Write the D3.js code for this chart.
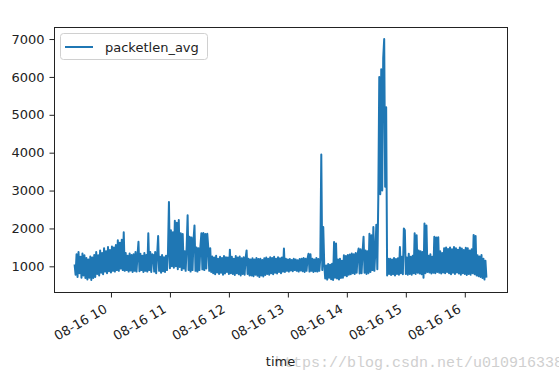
<!DOCTYPE html>
<html lang="en">
<head>
<meta charset="UTF-8">
<title>packetlen_avg</title>
<script src="https://cdn.jsdelivr.net/npm/d3@7"></script>
<style>
    body { margin: 0; background: #fff; }
    svg { display: block; font-family: "DejaVu Sans", sans-serif; }
</style>
</head>
<body>
<div id="chart"></div>
<script>
// series: one sample per minute starting at 08-16 09:23
const seriesName = "packetlen_avg";
const startTime = "2018-08-16 09:23";
const packetlenAvg = [
    1050, 780, 1320, 720, 1380, 820, 1250, 700, 1340, 760, 1290, 690, 1220, 650, 1180, 700, 1260, 640, 1230, 690,
    1300, 720, 1380, 800, 1290, 760, 1420, 830, 1350, 790, 1480, 860, 1400, 820, 1510, 870, 1430, 840, 1520, 880,
    1500, 860, 1560, 900, 1690, 880, 1620, 940, 1700, 900, 1900, 880, 1350, 900, 1280, 860, 1340, 890, 1300, 850,
    1320, 880, 1380, 860, 1290, 1650, 870, 1330, 900, 1280, 850, 1350, 880, 1300, 860, 1870, 900, 1380, 850, 1320,
    1300, 860, 1380, 820, 1320, 1800, 880, 1250, 830, 1300, 870, 1240, 850, 1280, 900, 1350, 2700, 950, 1950, 1000,
    1900, 960, 2200, 1000, 2150, 920, 2220, 980, 1870, 900, 1850, 940, 1400, 880, 1500, 2350, 900, 1780, 860, 1760,
    900, 1700, 2080, 880, 1500, 860, 1480, 900, 1520, 1870, 920, 1880, 900, 1850, 940, 1860, 1500, 880, 1480, 850,
    1260, 820, 1230, 790, 1280, 840, 1200, 800, 1250, 830, 1220, 780, 1270, 810, 1240, 850, 1230, 800, 1440, 820,
    1250, 800, 1200, 770, 1270, 820, 1230, 790, 1260, 760, 1210, 800, 1240, 780, 1220, 1420, 800, 1200, 760, 1180,
    760, 1210, 740, 1180, 780, 1220, 750, 1190, 720, 1200, 760, 1170, 730, 1210, 770, 1230, 800, 1200, 780, 1240,
    820, 1220, 790, 1250, 830, 1200, 810, 1240, 850, 1210, 820, 1230, 860, 1470, 850, 1200, 880, 1180, 860, 1190,
    890, 1170, 870, 1200, 900, 1180, 880, 1160, 860, 1190, 890, 1200, 870, 1220, 850, 1200, 880, 1210, 1330, 860,
    1320, 880, 1200, 850, 1180, 870, 1220, 860, 1190, 880, 1210, 3950, 900, 2040, 1050, 680, 1020, 650, 1060, 700,
    1040, 660, 1070, 640, 1640, 700, 1600, 680, 1180, 650, 1200, 690, 1150, 700, 1290, 760, 1270, 740, 1300, 780,
    1310, 790, 1340, 820, 1320, 800, 1350, 830, 1330, 1470, 810, 1450, 820, 1380, 1780, 830, 1420, 800, 1400, 820,
    1860, 850, 1820, 900, 2040, 880, 1400, 2100, 920, 2800, 6000, 2900, 6200, 3000, 6500, 7000, 3100, 5200, 760, 1200,
    800, 1200, 770, 1180, 790, 1220, 760, 1190, 800, 1210, 780, 1510, 820, 1250, 790, 2000, 1950, 800, 1230, 780,
    1330, 800, 1250, 780, 1280, 820, 1870, 800, 1820, 830, 1420, 810, 1400, 790, 1380, 700, 2130, 820, 2080, 850,
    1280, 840, 1320, 810, 1250, 830, 1780, 820, 1760, 850, 1770, 830, 1400, 810, 1350, 840, 1480, 820, 1500, 850,
    1460, 820, 1500, 790, 1450, 830, 1510, 800, 1480, 840, 1440, 810, 1500, 780, 1470, 820, 1430, 800, 1490, 770,
    1480, 800, 1420, 780, 1450, 820, 1830, 790, 1800, 760, 1290, 740, 1260, 720, 1300, 690, 1200, 650, 1150, 700
];
const yTicks = [1000, 2000, 3000, 4000, 5000, 6000, 7000];
const xTicks = ["2018-08-16 10:00", "2018-08-16 11:00", "2018-08-16 12:00", "2018-08-16 13:00",
                "2018-08-16 14:00", "2018-08-16 15:00", "2018-08-16 16:00"];
const xLabel = "time";
const watermark = "https://blog.csdn.net/u010916338";

const W = 559, H = 376;
const mLeft = 54, mRight = 507, mTop = 27, mBottom = 292;
const parse = d3.timeParse("%Y-%m-%d %H:%M");
const t0 = parse(startTime);
const data = packetlenAvg.map((v, i) => ({t: d3.timeMinute.offset(t0, i), v: v}));

const svg = d3.select("#chart").append("svg").attr("width", W).attr("height", H);

// matplotlib-style 5% margins
const tExt = d3.extent(data, d => d.t);
const tPad = (tExt[1] - tExt[0]) * 0.05;
const x = d3.scaleTime()
    .domain([new Date(+tExt[0] - tPad), new Date(+tExt[1] + tPad)])
    .range([mLeft, mRight]);
const vExt = d3.extent(data, d => d.v);
const vPad = (vExt[1] - vExt[0]) * 0.05;
const y = d3.scaleLinear()
    .domain([vExt[0] - vPad, vExt[1] + vPad])
    .range([mBottom, mTop]);

// line
const line = d3.line().x(d => x(d.t)).y(d => y(d.v));
svg.append("path")
    .datum(data)
    .attr("d", line)
    .attr("fill", "none")
    .attr("stroke", "#1f77b4")
    .attr("stroke-width", 2)
    .attr("stroke-linejoin", "round");

// frame
svg.append("rect")
    .attr("x", mLeft + 0.5).attr("y", mTop + 0.5)
    .attr("width", mRight - mLeft).attr("height", mBottom - mTop)
    .attr("fill", "none").attr("stroke", "#222").attr("stroke-width", 1);

// y axis
const yAxis = svg.append("g").attr("transform", `translate(${mLeft + 0.5},0)`)
    .call(d3.axisLeft(y).tickValues(yTicks).tickSize(5).tickPadding(5)
        .tickFormat(d3.format("d")));
yAxis.select(".domain").remove();
yAxis.selectAll("line").attr("stroke", "#222");
yAxis.selectAll("text").attr("font-size", 13).attr("fill", "#222")
    .attr("font-family", "DejaVu Sans");

// x axis
const xAxis = svg.append("g").attr("transform", `translate(0,${mBottom + 0.5})`)
    .call(d3.axisBottom(x).tickValues(xTicks.map(parse)).tickSize(5)
        .tickFormat(d3.timeFormat("%m-%d %H")));
xAxis.select(".domain").remove();
xAxis.selectAll("line").attr("stroke", "#222");
xAxis.selectAll("text")
    .attr("font-size", 13).attr("fill", "#222").attr("font-family", "DejaVu Sans")
    .attr("text-anchor", "end")
    .attr("x", -8).attr("y", 11).attr("dy", "0.72em")
    .attr("transform", "rotate(-30 -8 11)");

// watermark, then axis label on top
svg.append("text")
    .attr("x", 275).attr("y", 367)
    .attr("font-family", "Liberation Mono, monospace").attr("font-size", 15)
    .attr("fill", "#cfcfcf")
    .text(watermark);
svg.append("text")
    .attr("x", (mLeft + mRight) / 2).attr("y", 366)
    .attr("text-anchor", "middle").attr("font-size", 13).attr("fill", "#222")
    .text(xLabel);

// legend
const lg = svg.append("g");
lg.append("rect")
    .attr("x", 60.5).attr("y", 33.5).attr("width", 147).attr("height", 26).attr("rx", 3)
    .attr("fill", "#fff").attr("fill-opacity", 0.8).attr("stroke", "#d0d0d0");
lg.append("line")
    .attr("x1", 65).attr("x2", 93).attr("y1", 47).attr("y2", 47)
    .attr("stroke", "#1f77b4").attr("stroke-width", 2);
lg.append("text")
    .attr("x", 105).attr("y", 52).attr("font-size", 13).attr("fill", "#222")
    .text(seriesName);
</script>
</body>
</html>
